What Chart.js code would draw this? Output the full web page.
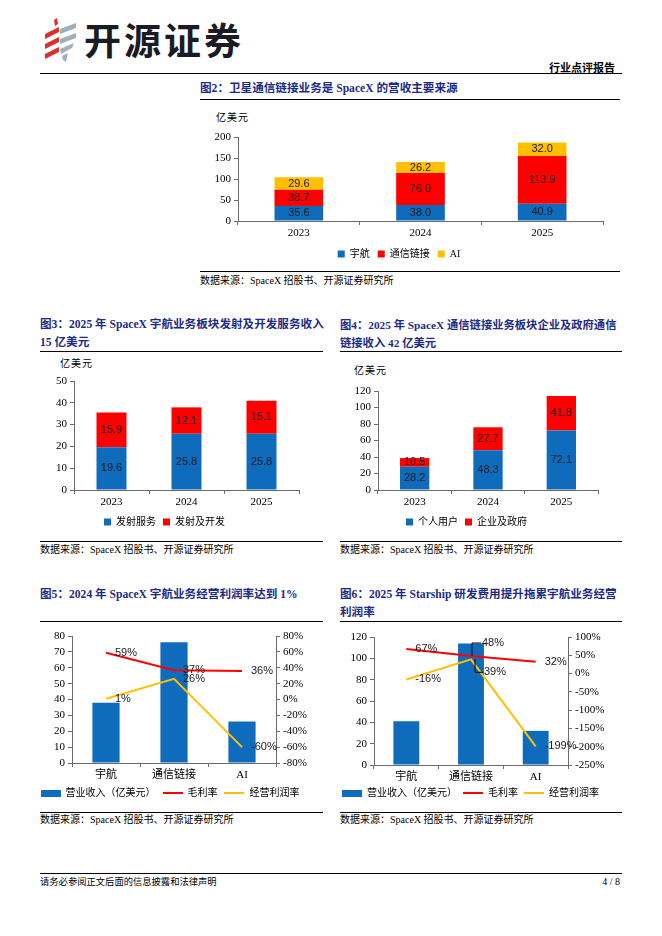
<!DOCTYPE html>
<html>
<head>
<meta charset="utf-8">
<script src="https://cdn.jsdelivr.net/npm/chart.js@4.4.1/dist/chart.umd.min.js"></script>
<style>
  body { margin: 0; width: 662px; height: 936px; background: #fff; position: relative; overflow: hidden;
         font-family: "Liberation Serif", "Noto Sans CJK SC", serif; color: #000; }
  .abs { position: absolute; white-space: nowrap; }
  .rule { position: absolute; height: 0; border-top: 1px solid #000; }
  .title { position: absolute; white-space: nowrap; color: #1d2b84; font-weight: bold; font-size: 11.6px; line-height: 18px; }
  .src { position: absolute; white-space: nowrap; font-size: 10px; line-height: 12px; }
  .unit { position: absolute; white-space: nowrap; font-size: 10px; letter-spacing: 1px; line-height: 12px; }
  .box { position: absolute; }
</style>
</head>
<body>

<!-- header -->
<svg class="abs" style="left:42px;top:18px" width="36" height="44" viewBox="0 0 36 44">
  <polygon points="12,2 15,0 16,6 13,8" fill="#d9312b"/>
  <polygon points="3,16 17,9 17,14 3,21" fill="#d9312b"/>
  <polygon points="3,26 17,19 17,24 3,31" fill="#d9312b"/>
  <polygon points="3,36 17,29 17,34 3,41" fill="#d9312b"/>
  <polygon points="18,11 34,5 34,10 18,16" fill="#9fb0bd"/>
  <polygon points="18,21 34,15 34,20 18,26" fill="#9fb0bd"/>
  <polygon points="18,31 32,25 30,30 19,36" fill="#9fb0bd"/>
  <polygon points="20,38 26,35 24,44 21,42" fill="#9fb0bd"/>
</svg>
<div class="abs" style="left:84px;top:17px;font-family:'Noto Sans CJK SC';font-weight:bold;font-size:37px;line-height:44px;color:#1b1b24;letter-spacing:3px">开源证券</div>
<div class="abs" style="right:47px;top:60px;font-family:'Noto Sans CJK SC';font-weight:bold;font-size:11px;line-height:14px">行业点评报告</div>
<div class="rule" style="left:40px;width:582px;top:73px;border-top-width:1.5px"></div>

<!-- figure 2 -->
<div class="title" style="left:200px;top:80px">图2：卫星通信链接业务是 SpaceX 的营收主要来源</div>
<div class="rule" style="left:200px;width:420px;top:99px"></div>
<div class="unit" style="left:216px;top:112px">亿美元</div>
<div class="box" style="left:195px;top:125px;width:420px;height:144px"><canvas id="c2" width="420" height="144"></canvas></div>
<div class="rule" style="left:200px;width:420px;top:271px"></div>
<div class="src" style="left:200px;top:275px">数据来源：SpaceX 招股书、开源证券研究所</div>

<!-- figure 3 -->
<div class="title" style="left:40px;top:316px">图3：2025 年 SpaceX 宇航业务板块发射及开发服务收入<br>15 亿美元</div>
<div class="rule" style="left:40px;width:283px;top:351px"></div>
<div class="unit" style="left:60px;top:358px">亿美元</div>
<div class="box" style="left:30px;top:370px;width:280px;height:167px"><canvas id="c3" width="280" height="167"></canvas></div>
<div class="rule" style="left:40px;width:283px;top:541px"></div>
<div class="src" style="left:40px;top:544px">数据来源：SpaceX 招股书、开源证券研究所</div>

<!-- figure 4 -->
<div class="title" style="left:340px;top:316px;font-size:11.3px">图4：2025 年 SpaceX 通信链接业务板块企业及政府通信<br>链接收入 42 亿美元</div>
<div class="rule" style="left:340px;width:282px;top:351px"></div>
<div class="unit" style="left:354px;top:365px">亿美元</div>
<div class="box" style="left:335px;top:380px;width:280px;height:157px"><canvas id="c4" width="280" height="157"></canvas></div>
<div class="rule" style="left:340px;width:282px;top:541px"></div>
<div class="src" style="left:340px;top:544px">数据来源：SpaceX 招股书、开源证券研究所</div>

<!-- figure 5 -->
<div class="title" style="left:40px;top:586px">图5：2024 年 SpaceX 宇航业务经营利润率达到 1%</div>
<div class="rule" style="left:40px;width:283px;top:621px"></div>
<div class="box" style="left:30px;top:625px;width:290px;height:183px"><canvas id="c5" width="290" height="183"></canvas></div>
<div class="rule" style="left:40px;width:283px;top:812px"></div>
<div class="src" style="left:40px;top:814px">数据来源：SpaceX 招股书、开源证券研究所</div>

<!-- figure 6 -->
<div class="title" style="left:340px;top:586px">图6：2025 年 Starship 研发费用提升拖累宇航业务经营<br>利润率</div>
<div class="rule" style="left:340px;width:282px;top:621px"></div>
<div class="box" style="left:330px;top:626px;width:290px;height:182px"><canvas id="c6" width="290" height="182"></canvas></div>
<div class="rule" style="left:340px;width:282px;top:812px"></div>
<div class="src" style="left:340px;top:814px">数据来源：SpaceX 招股书、开源证券研究所</div>

<!-- footer -->
<div class="rule" style="left:40px;width:582px;top:873px"></div>
<div class="src" style="left:40px;top:876px;font-size:9.3px">请务必参阅正文后面的信息披露和法律声明</div>
<div class="src" style="right:42px;top:876px">4 / 8</div>

<script>
// figure 2: revenue by segment
const years = ['2023', '2024', '2025'];
const spaceRev = [35.6, 38.0, 40.9];
const commRev = [38.7, 76.0, 113.9];
const aiRev = [29.6, 26.2, 32.0];

// figure 3: space segment split
const launchService = [19.6, 25.8, 25.8];
const launchDev = [15.9, 12.1, 15.1];

// figure 4: connectivity split
const consumerRev = [28.2, 48.3, 72.1];
const enterpriseRev = [10.5, 27.7, 41.8];

// figures 5 and 6: revenue and margins by segment
const segments = ['宇航', '通信链接', 'AI'];
const rev2024 = [38.0, 76.0, 26.2];
const grossMargin2024 = [59, 37, 36];
const opMargin2024 = [1, 26, -60];
const rev2025 = [40.9, 113.9, 32.0];
const grossMargin2025 = [67, 48, 32];
const opMargin2025 = [-16, 39, -199];

const BLUE = '#0f6cbd';
const RED = '#ff0000';
const YELLOW = '#ffc000';
const AXIS = '#6b6b6b';
const SERIF = '"Liberation Serif", "Noto Sans CJK SC", serif';
const SANS = '"Liberation Sans", "Noto Sans", sans-serif';

Chart.defaults.animation = false;
Chart.defaults.color = '#000';

// value labels: centred inside bars, to the right of line points
const valueLabels = {
  id: 'valueLabels',
  afterDatasetsDraw(chart, args, opts) {
    const ctx = chart.ctx;
    ctx.save();
    ctx.font = '11px ' + SANS;
    ctx.fillStyle = '#1a1a1a';
    ctx.textBaseline = 'middle';
    chart.data.datasets.forEach((ds, i) => {
      const meta = chart.getDatasetMeta(i);
      meta.data.forEach((el, j) => {
        const v = ds.data[j];
        if (meta.type === 'bar') {
          if (!opts.bars) return;
          const c = el.getCenterPoint();
          ctx.textAlign = 'center';
          ctx.fillText(v.toFixed(1), c.x, c.y);
        } else {
          const key = i + '-' + j;
          const o = (opts.shift && opts.shift[key]) || { dx: 9, dy: 0 };
          const tx = el.x + o.dx, ty = el.y + o.dy;
          if (o.leader) {
            const lx = el.x + (o.lx || 0);
            ctx.strokeStyle = '#000';
            ctx.lineWidth = 1;
            ctx.beginPath();
            ctx.moveTo(lx, el.y);
            ctx.lineTo(lx, ty);
            ctx.lineTo(tx - 1, ty);
            ctx.stroke();
          }
          ctx.textAlign = 'left';
          ctx.fillText(v + '%', tx, ty);
        }
      });
    });
    ctx.restore();
  }
};

function fixWidth(w) { return s => { s.width = w; }; }
function fixHeight(h) { return s => { s.height = h; }; }

function xAxis(h) {
  return {
    stacked: true,
    afterFit: fixHeight(h),
    grid: { drawOnChartArea: false, tickLength: 4, color: AXIS },
    border: { color: AXIS },
    ticks: { font: { family: SERIF, size: 11 }, padding: 2, color: '#000' }
  };
}

function yAxis(min, max, step, w, pos, fmt) {
  return {
    position: pos,
    min: min, max: max,
    afterFit: fixWidth(w),
    grid: { drawOnChartArea: false, tickLength: 4, color: AXIS },
    border: { color: AXIS },
    ticks: { stepSize: step, autoSkip: false, font: { family: SERIF, size: 11 }, padding: 3, color: '#000',
             callback: fmt || (v => v) }
  };
}

function squareLegend(pad) {
  return {
    position: 'bottom',
    labels: { boxWidth: 7, boxHeight: 7, padding: pad, color: '#000',
              font: { family: SERIF, size: 10 } }
  };
}

function stackedChart(id, cats, sets, yMin, yMax, yStep, yw, pad, legendPad) {
  return new Chart(document.getElementById(id), {
    type: 'bar',
    data: {
      labels: cats,
      datasets: sets.map(s => ({
        label: s.label, data: s.data, backgroundColor: s.color,
        barPercentage: 0.4, categoryPercentage: 1, borderWidth: 0
      }))
    },
    options: {
      responsive: false,
      layout: { padding: pad },
      scales: {
        x: xAxis(20),
        y: Object.assign(yAxis(yMin, yMax, yStep, yw, 'left'), { stacked: true })
      },
      plugins: {
        legend: squareLegend(legendPad),
        tooltip: { enabled: false },
        valueLabels: { bars: true }
      }
    },
    plugins: [valueLabels]
  });
}

stackedChart('c2', years, [
  { label: '宇航', data: spaceRev, color: BLUE },
  { label: '通信链接', data: commRev, color: RED },
  { label: 'AI', data: aiRev, color: YELLOW }
], 0, 200, 50, 43, { top: 12, right: 12, left: 0, bottom: 0 }, 8);

stackedChart('c3', years, [
  { label: '发射服务', data: launchService, color: BLUE },
  { label: '发射及开发', data: launchDev, color: RED }
], 0, 50, 10, 44, { top: 11, right: 11, left: 0, bottom: 0 }, 7);

stackedChart('c4', years, [
  { label: '个人用户', data: consumerRev, color: BLUE },
  { label: '企业及政府', data: enterpriseRev, color: RED }
], 0, 120, 20, 43, { top: 11, right: 17, left: 0, bottom: 0 }, 7);

// legend swatches for the combo charts
function swatch(w, h, color) {
  const c = document.createElement('canvas');
  c.width = w; c.height = h;
  const g = c.getContext('2d');
  g.fillStyle = color;
  g.fillRect(0, 0, w, h);
  return c;
}
const swatches = [swatch(20, 7, BLUE), swatch(20, 2, RED), swatch(20, 2, YELLOW)];

function comboChart(id, rev, gross, op, leftAxis, rightAxis, pad, xh, legendPad, shift) {
  return new Chart(document.getElementById(id), {
    data: {
      labels: segments,
      datasets: [
        { type: 'bar', label: '营业收入（亿美元）', data: rev, backgroundColor: BLUE, order: 1,
          barPercentage: 0.4, categoryPercentage: 1, yAxisID: 'y' },
        { type: 'line', label: '毛利率', data: gross, borderColor: RED, backgroundColor: RED,
          borderWidth: 2, pointRadius: 0, yAxisID: 'y1', order: 0 },
        { type: 'line', label: '经营利润率', data: op, borderColor: YELLOW, backgroundColor: YELLOW,
          borderWidth: 2, pointRadius: 0, yAxisID: 'y1', order: 0 }
      ]
    },
    options: {
      responsive: false,
      layout: { padding: pad },
      scales: {
        x: Object.assign(xAxis(xh), { stacked: false }),
        y: yAxis(leftAxis[0], leftAxis[1], leftAxis[2], leftAxis[3], 'left'),
        y1: yAxis(rightAxis[0], rightAxis[1], rightAxis[2], rightAxis[3], 'right', v => v + '%')
      },
      plugins: {
        legend: {
          position: 'bottom',
          labels: {
            usePointStyle: true, pointStyleWidth: 20, padding: legendPad, color: '#000',
            font: { family: SERIF, size: 10 },
            generateLabels(chart) {
              const items = Chart.defaults.plugins.legend.labels.generateLabels(chart);
              items.sort((a, b) => a.datasetIndex - b.datasetIndex);
              items.forEach(it => { it.pointStyle = swatches[it.datasetIndex]; });
              return items;
            }
          }
        },
        tooltip: { enabled: false },
        valueLabels: { bars: false, shift: shift }
      }
    },
    plugins: [valueLabels]
  });
}

comboChart('c5', rev2024, grossMargin2024, opMargin2024,
  [0, 80, 10, 42], [-80, 80, 20, 34],
  { top: 11, right: 10, left: 0, bottom: 0 }, 18, 7, {});

comboChart('c6', rev2025, grossMargin2025, opMargin2025,
  [0, 120, 20, 44], [-250, 100, 50, 43],
  { top: 11, right: 9, left: 0, bottom: 0 }, 17, 6,
  { '1-1': { dx: 11, dy: -13, leader: true, lx: 1 }, '2-1': { dx: 13, dy: 13, leader: true, lx: 4 } });
</script>
</body>
</html>
